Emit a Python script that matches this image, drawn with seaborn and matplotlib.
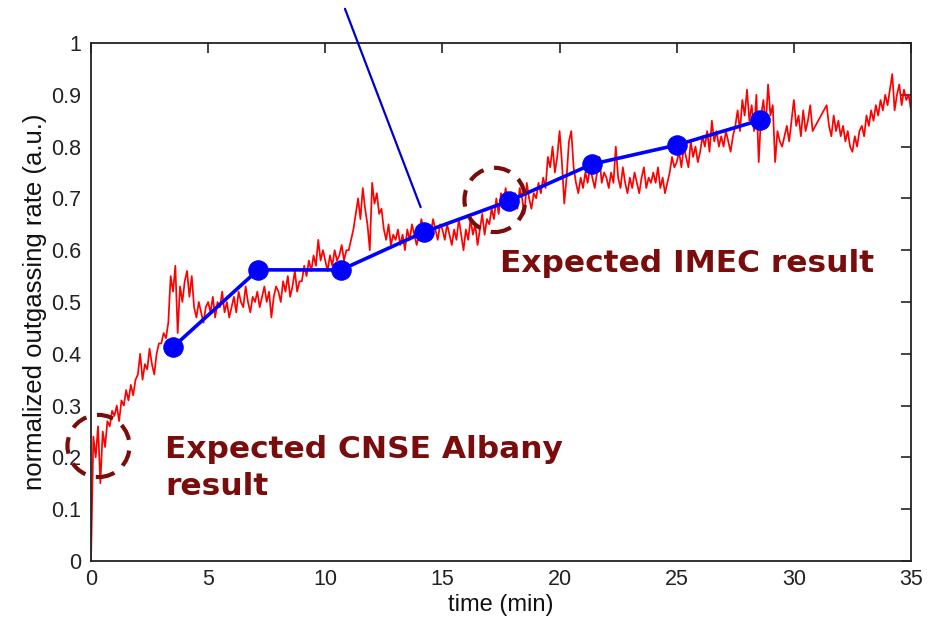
import numpy as np
import pandas as pd
import matplotlib
matplotlib.use("Agg")
import matplotlib.pyplot as plt
from matplotlib.patches import Ellipse
import seaborn as sns

# ---------------- data ----------------
# red trace, sampled every 0.1 min, minutes 0-10
rate_00_10 = [
    0.00, 0.24, 0.20, 0.26, 0.15, 0.25, 0.22, 0.27, 0.26, 0.29,
    0.28, 0.30, 0.27, 0.31, 0.30, 0.33, 0.31, 0.34, 0.32, 0.35,
    0.36, 0.40, 0.35, 0.38, 0.37, 0.41, 0.38, 0.36, 0.40, 0.42,
    0.42, 0.44, 0.43, 0.46, 0.55, 0.52, 0.57, 0.44, 0.53, 0.50,
    0.54, 0.56, 0.51, 0.55, 0.49, 0.47, 0.50, 0.48, 0.46, 0.49,
    0.50, 0.48, 0.51, 0.47, 0.50, 0.49, 0.52, 0.48, 0.50, 0.47,
    0.49, 0.51, 0.48, 0.52, 0.50, 0.49, 0.53, 0.50, 0.48, 0.51,
    0.50, 0.52, 0.49, 0.51, 0.53, 0.50, 0.52, 0.47, 0.51, 0.53,
    0.52, 0.50, 0.54, 0.52, 0.55, 0.51, 0.53, 0.56, 0.52, 0.54,
    0.54, 0.57, 0.55, 0.58, 0.56, 0.59, 0.57, 0.62, 0.58, 0.60,
]
# minutes 10-20
rate_10_20 = [
    0.58, 0.56, 0.59, 0.57, 0.60, 0.58, 0.59, 0.61, 0.58, 0.60,
    0.60, 0.62, 0.64, 0.67, 0.70, 0.66, 0.72, 0.68, 0.65, 0.60,
    0.73, 0.69, 0.71, 0.67, 0.68, 0.64, 0.62, 0.65, 0.61, 0.63,
    0.62, 0.64, 0.61, 0.63, 0.60, 0.64, 0.62, 0.65, 0.63, 0.61,
    0.63, 0.66, 0.64, 0.62, 0.65, 0.63, 0.66, 0.64, 0.62, 0.65,
    0.64, 0.62, 0.65, 0.63, 0.61, 0.64, 0.62, 0.66, 0.63, 0.60,
    0.64, 0.62, 0.66, 0.63, 0.65, 0.61, 0.64, 0.67, 0.63, 0.66,
    0.65, 0.68, 0.66, 0.70, 0.67, 0.71, 0.69, 0.72, 0.68, 0.70,
    0.69, 0.71, 0.68, 0.72, 0.70, 0.67, 0.73, 0.70, 0.68, 0.71,
    0.70, 0.73, 0.71, 0.74, 0.72, 0.78, 0.76, 0.80, 0.75, 0.78,
]
# minutes 20-30.8
rate_20_31 = [
    0.83, 0.77, 0.69, 0.74, 0.81, 0.83, 0.76, 0.73, 0.71, 0.74,
    0.72, 0.75, 0.73, 0.76, 0.74, 0.72, 0.75, 0.78, 0.73, 0.75,
    0.74, 0.72, 0.75, 0.73, 0.80, 0.74, 0.72, 0.76, 0.73, 0.71,
    0.74, 0.72, 0.75, 0.73, 0.71, 0.74, 0.76, 0.72, 0.74, 0.73,
    0.75, 0.73, 0.76, 0.72, 0.74, 0.71, 0.73, 0.75, 0.78, 0.76,
    0.77, 0.79, 0.76, 0.80, 0.78, 0.76, 0.81, 0.78, 0.80, 0.77,
    0.79, 0.82, 0.80, 0.83, 0.79, 0.85, 0.81, 0.83, 0.80, 0.82,
    0.80, 0.83, 0.81, 0.79, 0.82, 0.84, 0.87, 0.83, 0.89, 0.86,
    0.91, 0.85, 0.88, 0.83, 0.90, 0.77, 0.86, 0.89, 0.84, 0.92,
    0.86, 0.88, 0.77, 0.83, 0.81, 0.80, 0.82, 0.84, 0.81, 0.85,
    0.89, 0.84, 0.86, 0.82, 0.87, 0.83, 0.85, 0.88, 0.83,
]
# minutes 31.4-35 (after a short data gap)
rate_31_35 = [
    0.88, 0.84, 0.82, 0.86, 0.83, 0.85,
    0.82, 0.84, 0.81, 0.83, 0.80, 0.79, 0.82, 0.80, 0.83, 0.84,
    0.82, 0.86, 0.84, 0.87, 0.85, 0.88, 0.86, 0.89, 0.87, 0.90,
    0.88, 0.91, 0.94, 0.87, 0.90, 0.92, 0.88, 0.91, 0.89, 0.90, 0.87,
]
gap_start, gap_end, step = 0.0, 31.4, 0.1

# blue discrete measurements
imec_time = [3.5, 7.13, 10.67, 14.21, 17.84, 21.38, 25.0, 28.55]
imec_rate = [0.413, 0.562, 0.562, 0.635, 0.695, 0.766, 0.803, 0.851]

# annotations
cnse_circle = (0.32, 0.222)
imec_circle = (17.24, 0.697)
pointer_from = (10.84, 1.066)
pointer_to = (14.07, 0.683)

x_ticks = [0, 5, 10, 15, 20, 25, 30, 35]
y_ticks = [0, 0.1, 0.2, 0.3, 0.4, 0.5, 0.6, 0.7, 0.8, 0.9, 1]
y_tick_labels = ["0", "0.1", "0.2", "0.3", "0.4", "0.5", "0.6", "0.7", "0.8", "0.9", "1"]

# ---------------- build frame ----------------
first = rate_00_10 + rate_10_20 + rate_20_31
t_first = gap_start + np.arange(len(first)) * step
t_second = gap_end + np.arange(len(rate_31_35)) * step
red = pd.DataFrame({"time": np.concatenate([t_first, t_second]),
                    "rate": first + rate_31_35})
blue = pd.DataFrame({"time": imec_time, "rate": imec_rate})

# ---------------- style ----------------
sns.set_theme(style="white")
plt.rcParams["font.family"] = ["Liberation Sans Narrow", "Liberation Sans", "DejaVu Sans"]

fig = plt.figure(figsize=(9.39, 6.23), dpi=100)
ax = fig.add_axes([91 / 939, 62 / 623, 820 / 939, 518 / 623])

sns.lineplot(data=red, x="time", y="rate", ax=ax, color="#ff0000", lw=1.25,
             sort=False, estimator=None, zorder=2)
sns.lineplot(data=blue, x="time", y="rate", ax=ax, color="#0000ff", lw=2.6,
             marker="o", markersize=14, markeredgecolor="#0000ff",
             sort=False, estimator=None, zorder=3)

ax.set_xlim(0, 35)
ax.set_ylim(0, 1)
ax.set_xticks(x_ticks)
ax.set_xticklabels([str(v) for v in x_ticks])
ax.set_yticks(y_ticks)
ax.set_yticklabels(y_tick_labels)
ax.tick_params(direction="in", length=7, width=1.2, top=True, right=True,
               labelsize=15.5, colors="#222222")
ax.tick_params(axis="x", pad=6)
ax.tick_params(axis="y", pad=7)
for s in ax.spines.values():
    s.set_color("#222222")
    s.set_linewidth(1.3)
ax.set_xlabel("time (min)", fontsize=17, color="#111111", labelpad=3)
ax.set_ylabel("normalized outgassing rate (a.u.)", fontsize=18.5, color="#111111", labelpad=3)

# pointer line
ax.annotate("", xy=pointer_to, xytext=pointer_from, xycoords="data",
            arrowprops=dict(arrowstyle="-", color="#0000cc", lw=1.6,
                            shrinkA=0, shrinkB=0),
            annotation_clip=False)

# dashed circles
dark_red = "#7a0c0c"
for c, (w, h) in [(cnse_circle, (2.65, 0.12)), (imec_circle, (2.6, 0.124))]:
    e = Ellipse(c, w, h, fill=False, edgecolor=dark_red, lw=3,
                linestyle=(0, (4, 2.6)), clip_on=False, zorder=4)
    ax.add_patch(e)

tfont = dict(fontsize=22.5, fontweight="bold", color=dark_red,
             family=["DejaVu Sans"], va="baseline", ha="left")
ax.text(3.16, 0.199, "Expected CNSE Albany", **tfont)
ax.text(3.16, 0.127, "result", **tfont)
ax.text(17.46, 0.558, "Expected IMEC result", **tfont)

fig.savefig("out.png", dpi=100)
